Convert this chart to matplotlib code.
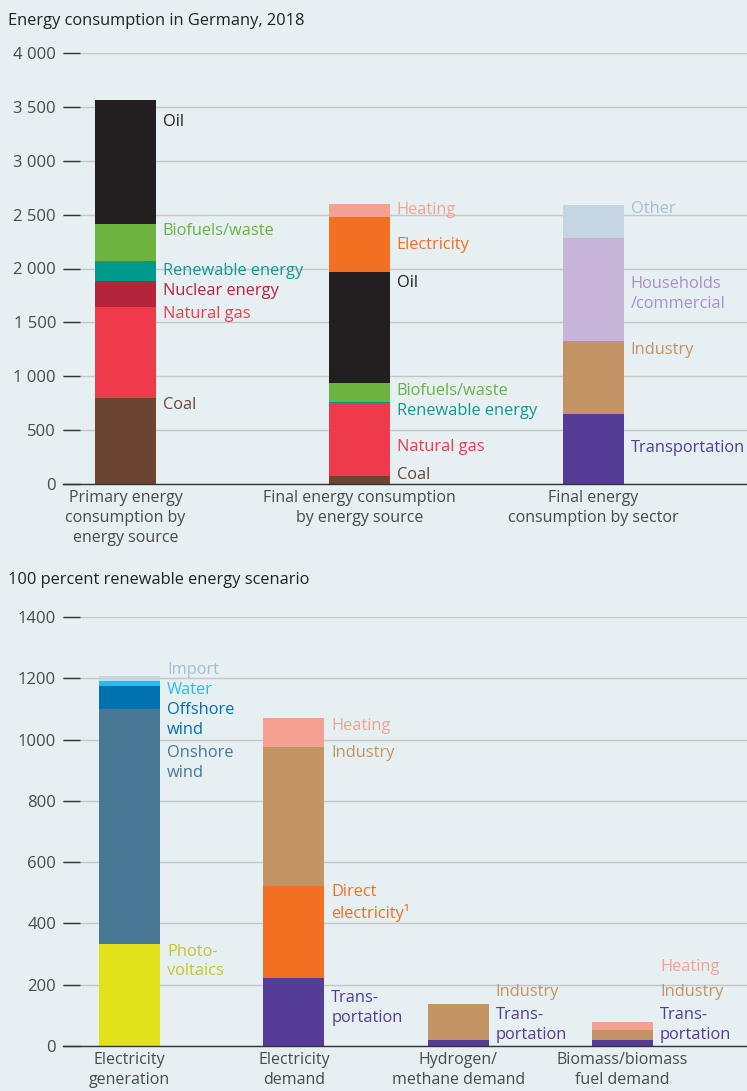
import matplotlib

matplotlib.use("Agg")

import matplotlib.pyplot as plt
import numpy as np

plt.rcParams["font.family"] = ["Open Sans", "DejaVu Sans"]

BG = "#e6eff1"
GRID = "#c3c7c9"
DARK = "#333333"
TICK_TEXT = "#4a4a4a"

# ---- top chart data ----
top_categories = [
    "Primary energy\nconsumption by\nenergy source",
    "Final energy consumption\nby energy source",
    "Final energy\nconsumption by sector",
]
primary_names = ["Coal", "Natural gas", "Nuclear energy", "Renewable energy", "Biofuels/waste", "Oil"]
primary_values = [800, 845, 240, 185, 345, 1150]
final_source_names = ["Coal", "Natural gas", "Renewable energy", "Biofuels/waste", "Oil", "Electricity", "Heating"]
final_source_values = [75, 677, 8, 177, 1030, 514, 117]
sector_names = ["Transportation", "Industry", "Households\n/commercial", "Other"]
sector_values = [650, 680, 953, 306]
top_ticks = [0, 500, 1000, 1500, 2000, 2500, 3000, 3500, 4000]
top_tick_labels = ["0", "500", "1 000", "1 500", "2 000", "2 500", "3 000", "3 500", "4 000"]

# ---- bottom chart data ----
bottom_categories = [
    "Electricity\ngeneration",
    "Electricity\ndemand",
    "Hydrogen/\nmethane demand",
    "Biomass/biomass\nfuel demand",
]
gen_names = ["Photo-\nvoltaics", "Onshore\nwind", "Offshore\nwind", "Water", "Import"]
gen_values = [333, 767, 75, 16, 16]
demand_names = ["Trans-\nportation", "Direct\nelectricity\u00b9", "Industry", "Heating"]
demand_values = [223, 300, 454, 93]
hydrogen_names = ["Trans-\nportation", "Industry"]
hydrogen_values = [20, 117]
biomass_names = ["Trans-\nportation", "Industry", "Heating"]
biomass_values = [20, 32, 27]
bottom_ticks = [0, 200, 400, 600, 800, 1000, 1200, 1400]

# ---- colours: (fill, label text) ----
colors = {
    "Coal": ("#6b4531", "#6b4531"),
    "Natural gas": ("#ee3a4a", "#ee3a4a"),
    "Nuclear energy": ("#b5253a", "#b5253a"),
    "Renewable energy": ("#00998e", "#12998f"),
    "Biofuels/waste": ("#6db33f", "#6db33f"),
    "Oil": ("#231f20", "#231f20"),
    "Electricity": ("#f36f21", "#f36f21"),
    "Heating": ("#f5a191", "#f5a191"),
    "Transportation": ("#553c96", "#553c96"),
    "Trans-\nportation": ("#553c96", "#553c96"),
    "Industry": ("#c49465", "#c49465"),
    "Households\n/commercial": ("#c8b4d8", "#a890cc"),
    "Other": ("#c5d5e2", "#a6bed0"),
    "Photo-\nvoltaics": ("#e2e21c", "#c6c624"),
    "Onshore\nwind": ("#487894", "#487894"),
    "Offshore\nwind": ("#0070ae", "#0070ae"),
    "Water": ("#1fc0ee", "#1fc0ee"),
    "Import": ("#c5d5e2", "#a6bed0"),
    "Direct\nelectricity\u00b9": ("#f36f21", "#f36f21"),
}

# label anchor heights (data units) for the text beside each bar
top_label_y = [
    [752, 1596, 1810, 1995, 2366, 3378],
    [102, 362, 696, 882, 1884, 2236, 2561],
    [353, 1262, 1777, 2571],
]
bottom_label_y = [
    [281, 928, 1069, 1168, 1233],
    [129, 472, 963, 1051],
    [73, 183],
    [73, 183, 264],
]


def style_axis(ax, ticks, tick_labels):
    ax.set_facecolor(BG)
    for side in ("left", "top", "right"):
        ax.spines[side].set_visible(False)
    ax.spines["bottom"].set_color(DARK)
    ax.spines["bottom"].set_linewidth(1.0)
    ax.set_yticks(ticks)
    ax.set_yticklabels(tick_labels)
    ax.tick_params(axis="y", direction="in", length=12, width=1.0, color=DARK,
                   pad=5, labelsize=12, labelcolor=TICK_TEXT)
    ax.tick_params(axis="x", length=0, pad=4, labelsize=11.5, labelcolor=TICK_TEXT)
    ax.grid(axis="y", color=GRID, linewidth=1.0)
    ax.set_axisbelow(True)


def stacked_bar(ax, x, names, values, label_y, width):
    bottom = 0.0
    for name, value, ly in zip(names, values, label_y):
        fill, text = colors[name]
        ax.bar(x, value, bottom=bottom, width=width, color=fill, linewidth=0, zorder=2)
        ax.annotate(name, xy=(x + width / 2, ly), xytext=(5, -1.2), textcoords="offset points",
                    ha="left", va="center", color=text, fontsize=11.8, linespacing=1.32,
                    annotation_clip=False, zorder=3)
        bottom += value


fig = plt.figure(figsize=(7.47, 10.91), dpi=100)
fig.patch.set_facecolor(BG)

ax_top = fig.add_axes([63 / 747, 1 - 484 / 1091, 684 / 747, 431 / 1091])
style_axis(ax_top, top_ticks, top_tick_labels)
w_top = 0.26
top_series = [
    (primary_names, primary_values),
    (final_source_names, final_source_values),
    (sector_names, sector_values),
]
for i, (names, values) in enumerate(top_series):
    stacked_bar(ax_top, i, names, values, top_label_y[i], w_top)
ax_top.set_xticks(range(len(top_categories)))
ax_top.set_xticklabels(top_categories, linespacing=1.35)
ax_top.set_xlim(-0.267, 2.656)
ax_top.set_ylim(0, 4000)

ax_bot = fig.add_axes([63 / 747, 1 - 1046 / 1091, 684 / 747, 429 / 1091])
style_axis(ax_bot, bottom_ticks, [str(t) for t in bottom_ticks])
w_bot = 0.371
bottom_series = [
    (gen_names, gen_values),
    (demand_names, demand_values),
    (hydrogen_names, hydrogen_values),
    (biomass_names, biomass_values),
]
for i, (names, values) in enumerate(bottom_series):
    stacked_bar(ax_bot, i, names, values, bottom_label_y[i], w_bot)
ax_bot.set_xticks(range(len(bottom_categories)))
ax_bot.set_xticklabels(bottom_categories, linespacing=1.35)
ax_bot.set_xlim(-0.405, 3.758)
ax_bot.set_ylim(0, 1400)

fig.text(8 / 747, 1 - 21 / 1091, "Energy consumption in Germany, 2018",
         ha="left", va="center", fontsize=11.8, color="#222222")
fig.text(8 / 747, 1 - 580 / 1091, "100 percent renewable energy scenario",
         ha="left", va="center", fontsize=11.8, color="#222222")

fig.savefig("out.png", dpi=100, facecolor=BG)
plt.close(fig)
